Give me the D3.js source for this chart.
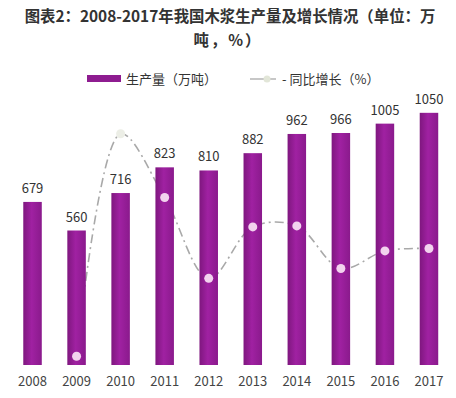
<!DOCTYPE html>
<html>
<head>
<meta charset="utf-8">
<script src="https://cdn.jsdelivr.net/npm/d3@7"></script>
<style>
  body { margin: 0; background: #fff; }
  svg { display: block; font-family: "Noto Sans CJK SC", "Noto Sans", sans-serif; }
</style>
</head>
<body>
<div id="wrapper"></div>
<script>
const years = ["2008", "2009", "2010", "2011", "2012", "2013", "2014", "2015", "2016", "2017"];
const output = [679, 560, 716, 823, 810, 882, 962, 966, 1005, 1050];
const growth = [null, -17.5, 27.9, 14.9, -1.6, 8.9, 9.1, 0.4, 4.0, 4.5];

function buildChart() {
  const dimensions = { width: 456, height: 398 };
  const svg = d3.select("#wrapper").append("svg")
    .attr("width", dimensions.width)
    .attr("height", dimensions.height);

  const defs = svg.append("defs");
  const grad = defs.append("linearGradient")
    .attr("id", "barFill")
    .attr("x1", 0).attr("x2", 1).attr("y1", 0).attr("y2", 0);
  grad.append("stop").attr("offset", "0%").attr("stop-color", "#7f177f");
  grad.append("stop").attr("offset", "45%").attr("stop-color", "#a021a2");
  grad.append("stop").attr("offset", "100%").attr("stop-color", "#8a1a8c");

  // title
  const title = svg.append("g")
    .attr("font-weight", "bold")
    .attr("font-size", 15.4)
    .attr("fill", "#333")
    .attr("text-anchor", "middle");
  title.append("text").attr("x", 230).attr("y", 22)
    .text("图表2：2008-2017年我国木浆生产量及增长情况（单位：万");
  title.append("text").attr("x", 228).attr("y", 46)
    .attr("letter-spacing", 2)
    .text("吨，%）");

  // legend
  const legend = svg.append("g").attr("font-size", 13).attr("fill", "#333");
  legend.append("rect")
    .attr("x", 87).attr("y", 75).attr("width", 34).attr("height", 7)
    .attr("fill", "#8e1c90");
  legend.append("text").attr("x", 126).attr("y", 84).text("生产量（万吨）");
  legend.append("line")
    .attr("x1", 250).attr("x2", 276).attr("y1", 79).attr("y2", 79)
    .attr("stroke", "#b5b5b5").attr("stroke-width", 1.5);
  legend.append("circle")
    .attr("cx", 267).attr("cy", 79).attr("r", 3.5)
    .attr("fill", "#e2e6d8");
  legend.append("text").attr("x", 282).attr("y", 84).text("- 同比增长（%）");

  // scales
  const x = d3.scaleBand()
    .domain(years)
    .range([10.5, 451])
    .paddingInner(0.58)
    .paddingOuter(0.29);

  const y = d3.scaleLinear().domain([0, 1200]).range([365, 76.8]);
  const yGrowth = d3.scaleLinear().domain([-20, 30]).range([368.5, 123.5]);

  const cx = d => x(d) + x.bandwidth() / 2;

  // growth line (behind the bars)
  const points = years.map((d, i) => ({ year: d, v: growth[i] })).filter(d => d.v !== null);
  const line = d3.line()
    .x(d => cx(d.year))
    .y(d => yGrowth(d.v))
    .curve(d3.curveCatmullRom.alpha(0.5));

  svg.append("path")
    .datum(points)
    .attr("d", line)
    .attr("fill", "none")
    .attr("stroke", "#a9a9a9")
    .attr("stroke-width", 1.6)
    .attr("stroke-dasharray", "9,4,2,4");

  // bars
  svg.selectAll(".bar")
    .data(years)
    .join("rect")
    .attr("class", "bar")
    .attr("x", d => x(d))
    .attr("y", (d, i) => y(output[i]))
    .attr("width", x.bandwidth())
    .attr("height", (d, i) => y(0) - y(output[i]))
    .attr("fill", "url(#barFill)");

  // value labels
  svg.selectAll(".val")
    .data(years)
    .join("text")
    .attr("class", "val")
    .attr("x", d => cx(d))
    .attr("y", (d, i) => y(output[i]) - 9)
    .attr("text-anchor", "middle")
    .attr("font-size", 13)
    .attr("fill", "#333")
    .text((d, i) => output[i]);

  // growth dots
  svg.selectAll(".dot")
    .data(points)
    .join("circle")
    .attr("class", "dot")
    .attr("cx", d => cx(d.year))
    .attr("cy", d => yGrowth(d.v))
    .attr("r", 4.5)
    .attr("fill", d => d.year === "2010" ? "#eceee6" : "#f2d3ee");

  // x axis labels
  const xAxis = d3.axisBottom(x).tickSize(0).tickPadding(12);
  const gx = svg.append("g")
    .attr("transform", "translate(0,365)")
    .call(xAxis);
  gx.select(".domain").remove();
  gx.selectAll("text")
    .attr("font-size", 13)
    .attr("fill", "#444")
    .attr("font-family", "\"Noto Sans CJK SC\", sans-serif");
}

buildChart();
</script>
</body>
</html>
